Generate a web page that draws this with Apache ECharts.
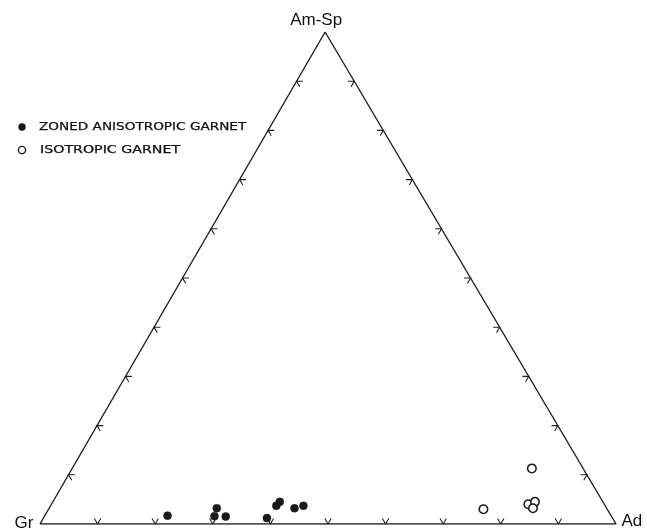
<!DOCTYPE html>
<html>
<head>
<meta charset="utf-8">
<script src="https://cdn.jsdelivr.net/npm/echarts@6/dist/echarts.min.js"></script>
<style>
html,body{margin:0;padding:0;background:#fff;}
#chart{width:647px;height:530px;}
</style>
</head>
<body>
<div id="chart"></div>
<script>
// ---- data (percent: Gr + Ad + Am-Sp = 100) ----
const vertexNames = ['Gr', 'Ad', 'Am-Sp'];
const seriesNames = ['ZONED ANISOTROPIC GARNET', 'ISOTROPIC GARNET'];

const zonedAd = [21.3, 29.1, 29.5, 31.5, 38.8, 39.2, 39.4, 42.6, 43.9];
const zonedSp = [1.7, 3.2, 1.6, 1.5, 1.2, 3.7, 4.5, 3.2, 3.7];

const isoAd = [79.8, 75.5, 82.8, 83.7, 84.0];
const isoSp = [11.3, 3.0, 4.0, 4.5, 3.2];

const tickValues = [10, 20, 30, 40, 50, 60, 70, 80, 90];

// ---- ternary -> cartesian (data units of the hidden axes) ----
const APEX_X = 0.495;
function tern(ad, sp) {
  return [ad / 100 + (sp / 100) * APEX_X, sp / 100];
}

const zonedPts = zonedAd.map((a, i) => tern(a, zonedSp[i]));
const isoPts = isoAd.map((a, i) => tern(a, isoSp[i]));

// triangle outline: Gr -> Ad -> Am-Sp -> Gr
const outline = [tern(0, 0), tern(100, 0), tern(0, 100), tern(0, 0)];

// chevron ticks along the grid directions
const D = 1.1;
const ticks = [];
tickValues.forEach(v => {
  ticks.push({coords: [tern(v, D), tern(v, 0), tern(v - D, D)]});
  ticks.push({coords: [tern(D, v), tern(0, v), tern(D, v - D)]});
  ticks.push({coords: [tern(100 - v - D, v), tern(100 - v, v), tern(100 - v, v - D)]});
});

const chart = echarts.init(document.getElementById('chart'), null, {renderer: 'canvas'});
const ink = '#1e1e1e';

const option = {
  backgroundColor: '#ffffff',
  animation: false,
  grid: {left: 40, top: 32, width: 576, height: 492, containLabel: false},
  xAxis: {type: 'value', min: 0, max: 1, show: false},
  yAxis: {type: 'value', min: 0, max: 1, show: false},
  series: [
    {
      type: 'line',
      data: outline,
      symbol: 'none',
      lineStyle: {color: ink, width: 1.4},
      silent: true,
      z: 2
    },
    {
      type: 'lines',
      coordinateSystem: 'cartesian2d',
      polyline: true,
      data: ticks,
      lineStyle: {color: ink, width: 1.1, opacity: 1},
      silent: true,
      z: 2
    },
    {
      type: 'scatter',
      data: [
        {value: tern(0, 0), label: {formatter: vertexNames[0], position: 'left', distance: 6, offset: [0, -1]}},
        {value: tern(100, 0), label: {formatter: vertexNames[1], position: 'right', distance: 5, offset: [0, -3]}},
        {value: tern(0, 100), label: {formatter: vertexNames[2], position: 'top', distance: 3, offset: [-9, 0]}}
      ],
      symbolSize: 1,
      itemStyle: {color: 'rgba(0,0,0,0)', opacity: 1},
      label: {show: true, color: '#111', opacity: 1, fontSize: 17, fontFamily: 'Liberation Sans'},
      silent: true,
      z: 3
    },
    {
      name: seriesNames[0],
      type: 'scatter',
      data: zonedPts,
      symbol: 'circle',
      symbolSize: 8,
      itemStyle: {color: '#1a1a1a', borderColor: '#1a1a1a', borderWidth: 0.5, opacity: 1},
      z: 4
    },
    {
      name: seriesNames[1],
      type: 'scatter',
      data: isoPts,
      symbol: 'circle',
      symbolSize: 8.5,
      itemStyle: {color: '#fff', borderColor: '#1a1a1a', borderWidth: 1.5, opacity: 1},
      z: 4
    }
  ],
  graphic: [
    {type: 'circle', shape: {cx: 22, cy: 127, r: 3.7}, style: {fill: '#1a1a1a'}},
    {type: 'text', x: 39, y: 127, scaleX: 1.36,
      style: {text: seriesNames[0], fontSize: 10, fontFamily: 'DejaVu Sans', fill: '#111', verticalAlign: 'middle', align: 'left', stroke: '#111', lineWidth: 0.25}},
    {type: 'circle', shape: {cx: 22, cy: 150, r: 3.6}, style: {fill: '#fff', stroke: '#1a1a1a', lineWidth: 1.4}},
    {type: 'text', x: 40, y: 150, scaleX: 1.42,
      style: {text: seriesNames[1], fontSize: 10, fontFamily: 'DejaVu Sans', fill: '#111', verticalAlign: 'middle', align: 'left', stroke: '#111', lineWidth: 0.25}}
  ]
};
chart.setOption(option);
</script>
</body>
</html>
